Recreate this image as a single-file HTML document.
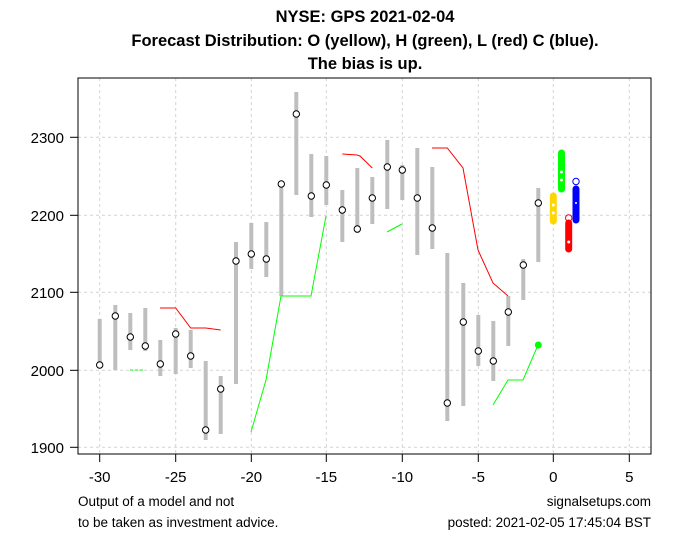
<!DOCTYPE html>
<html><head><style>
body{margin:0;background:#fff;}
svg{display:block;font-family:"Liberation Sans",Arial,sans-serif;}
</style></head><body>
<svg width="691" height="552" viewBox="0 0 691 552" xmlns="http://www.w3.org/2000/svg">
<rect width="691" height="552" fill="#fff"/>
<g font-weight="bold" font-size="16.5" text-anchor="middle" fill="#000">
<text x="365" y="22">NYSE: GPS 2021-02-04</text>
<text x="365" y="46">Forecast Distribution: O (yellow), H (green), L (red) C (blue).</text>
<text x="365" y="69">The bias is up.</text>
</g>
<g stroke="#d3d3d3" stroke-dasharray="3,3" stroke-width="1">
<line x1="99.7" y1="78" x2="99.7" y2="454"/><line x1="175.7" y1="78" x2="175.7" y2="454"/>
<line x1="251.3" y1="78" x2="251.3" y2="454"/><line x1="326.3" y1="78" x2="326.3" y2="454"/>
<line x1="402.3" y1="78" x2="402.3" y2="454"/><line x1="478.3" y1="78" x2="478.3" y2="454"/>
<line x1="553.3" y1="78" x2="553.3" y2="454"/><line x1="629.3" y1="78" x2="629.3" y2="454"/>
<line x1="78" y1="137.3" x2="651" y2="137.3"/><line x1="78" y1="215.3" x2="651" y2="215.3"/>
<line x1="78" y1="292.3" x2="651" y2="292.3"/><line x1="78" y1="370.3" x2="651" y2="370.3"/>
<line x1="78" y1="447.3" x2="651" y2="447.3"/>
</g>
<rect x="78" y="78" width="573" height="376" fill="none" stroke="#000" stroke-width="1"/>
<g stroke="#000">
<line x1="99.7" y1="454" x2="99.7" y2="462"/><line x1="175.7" y1="454" x2="175.7" y2="462"/>
<line x1="251.3" y1="454" x2="251.3" y2="462"/><line x1="326.3" y1="454" x2="326.3" y2="462"/>
<line x1="402.3" y1="454" x2="402.3" y2="462"/><line x1="478.3" y1="454" x2="478.3" y2="462"/>
<line x1="553.3" y1="454" x2="553.3" y2="462"/><line x1="629.3" y1="454" x2="629.3" y2="462"/>
<line x1="70" y1="137.3" x2="78" y2="137.3"/><line x1="70" y1="215.3" x2="78" y2="215.3"/>
<line x1="70" y1="292.3" x2="78" y2="292.3"/><line x1="70" y1="370.3" x2="78" y2="370.3"/>
<line x1="70" y1="447.3" x2="78" y2="447.3"/>
</g>
<g font-size="15" text-anchor="middle" fill="#000">
<text x="99.7" y="482">-30</text><text x="175.7" y="482">-25</text><text x="251.3" y="482">-20</text>
<text x="326.3" y="482">-15</text><text x="402.3" y="482">-10</text><text x="478.3" y="482">-5</text>
<text x="553.3" y="482">0</text><text x="629.3" y="482">5</text>
</g>
<g font-size="15" text-anchor="end" fill="#000">
<text x="64" y="143">2300</text><text x="64" y="221">2200</text><text x="64" y="298">2100</text>
<text x="64" y="376">2000</text><text x="64" y="453">1900</text>
</g>
<g font-size="13.5" fill="#000">
<text x="78" y="506">Output of a model and not</text>
<text x="78" y="527">to be taken as investment advice.</text>
<text x="651" y="506" text-anchor="end">signalsetups.com</text>
<text x="651" y="527" text-anchor="end">posted: 2021-02-05 17:45:04 BST</text>
</g>
<g stroke="#bebebe" stroke-width="4">
<line x1="99.7" y1="319" x2="99.7" y2="368"/><line x1="115.3" y1="305" x2="115.3" y2="370"/>
<line x1="130.3" y1="313" x2="130.3" y2="350"/><line x1="145.3" y1="308" x2="145.3" y2="351"/>
<line x1="160.3" y1="340" x2="160.3" y2="376"/><line x1="175.7" y1="328" x2="175.7" y2="374"/>
<line x1="190.7" y1="330" x2="190.7" y2="368"/><line x1="205.7" y1="361" x2="205.7" y2="440"/>
<line x1="220.7" y1="376" x2="220.7" y2="434"/><line x1="236" y1="242" x2="236" y2="384"/>
<line x1="251.3" y1="223" x2="251.3" y2="269"/><line x1="266.3" y1="222" x2="266.3" y2="277"/>
<line x1="281.3" y1="182" x2="281.3" y2="296"/><line x1="296.3" y1="92" x2="296.3" y2="195"/>
<line x1="311.3" y1="154" x2="311.3" y2="217"/><line x1="326.3" y1="156" x2="326.3" y2="205"/>
<line x1="342.3" y1="190" x2="342.3" y2="242"/><line x1="357.3" y1="168" x2="357.3" y2="233"/>
<line x1="372.3" y1="177" x2="372.3" y2="224"/><line x1="387.3" y1="140" x2="387.3" y2="209"/>
<line x1="402.3" y1="165" x2="402.3" y2="200"/><line x1="417.3" y1="148" x2="417.3" y2="255"/>
<line x1="432.3" y1="167" x2="432.3" y2="249"/><line x1="447.3" y1="253" x2="447.3" y2="421"/>
<line x1="463.3" y1="283" x2="463.3" y2="406"/><line x1="478.3" y1="315" x2="478.3" y2="366"/>
<line x1="493.3" y1="321" x2="493.3" y2="381"/><line x1="508.3" y1="296" x2="508.3" y2="346"/>
<line x1="523.3" y1="259" x2="523.3" y2="300"/><line x1="538.3" y1="188" x2="538.3" y2="262"/>
</g>
<g fill="none" stroke="#f00" stroke-width="1">
<polyline points="160,308 175.7,308 190.7,328 205.7,328 220.7,330"/>
<polyline points="342.3,154 357,155 360,156 372.3,168"/>
<polyline points="432,148 447.3,148 463,168 478,250 493,283 508,296"/>
</g>
<g fill="none" stroke="#0f0" stroke-width="1">
<line x1="130" y1="370" x2="145" y2="370" stroke-dasharray="3,2"/>
<polyline points="251,432 266,380 281,296 311,296 326,216"/>
<polyline points="387,232 402,224"/>
<polyline points="493,405 508,380 523,380 538,345"/>
</g>
<circle cx="538.3" cy="345" r="3.5" fill="#0f0"/>
<g fill="#fff" stroke="#000" stroke-width="1">
<circle cx="99.7" cy="365" r="3.2"/><circle cx="115.3" cy="316" r="3.2"/><circle cx="130.3" cy="337" r="3.2"/>
<circle cx="145.3" cy="346" r="3.2"/><circle cx="160.3" cy="364" r="3.2"/><circle cx="175.7" cy="334" r="3.2"/>
<circle cx="190.7" cy="356" r="3.2"/><circle cx="205.7" cy="430" r="3.2"/><circle cx="220.7" cy="389" r="3.2"/>
<circle cx="236" cy="261" r="3.2"/><circle cx="251.3" cy="254" r="3.2"/><circle cx="266.3" cy="259" r="3.2"/>
<circle cx="281.3" cy="184" r="3.2"/><circle cx="296.3" cy="114" r="3.2"/><circle cx="311.3" cy="196" r="3.2"/>
<circle cx="326.3" cy="185" r="3.2"/><circle cx="342.3" cy="210" r="3.2"/><circle cx="357.3" cy="229" r="3.2"/>
<circle cx="372.3" cy="198" r="3.2"/><circle cx="387.3" cy="167" r="3.2"/><circle cx="402.3" cy="170" r="3.2"/>
<circle cx="417.3" cy="198" r="3.2"/><circle cx="432.3" cy="228" r="3.2"/><circle cx="447.3" cy="403" r="3.2"/>
<circle cx="463.3" cy="322" r="3.2"/><circle cx="478.3" cy="351" r="3.2"/><circle cx="493.3" cy="361" r="3.2"/>
<circle cx="508.3" cy="312" r="3.2"/><circle cx="523.3" cy="265" r="3.2"/><circle cx="538.3" cy="203" r="3.2"/>
</g>
<g stroke-linecap="round" stroke-width="7">
<line x1="553.3" y1="196" x2="553.3" y2="221" stroke="#ffd700"/>
<line x1="561.5" y1="153" x2="561.5" y2="189" stroke="#0f0"/>
<line x1="568.7" y1="223" x2="568.7" y2="249" stroke="#f00"/>
<line x1="576" y1="189" x2="576" y2="220" stroke="#00f"/>
</g>
<g fill="#fff" stroke-width="1">
<circle cx="553.3" cy="205" r="2" stroke="#ffd700"/><circle cx="553.3" cy="213" r="2" stroke="#ffd700"/>
<circle cx="561.5" cy="172" r="2" stroke="#0f0"/><circle cx="561.5" cy="180" r="2" stroke="#0f0"/>
<circle cx="568.7" cy="242" r="2" stroke="#f00"/><circle cx="576" cy="203" r="1.5" stroke="#00f"/>
</g>
<circle cx="568.7" cy="218" r="3.2" fill="none" stroke="#f00"/>
<circle cx="576" cy="181.5" r="3.2" fill="none" stroke="#00f"/>
</svg>
</body></html>
